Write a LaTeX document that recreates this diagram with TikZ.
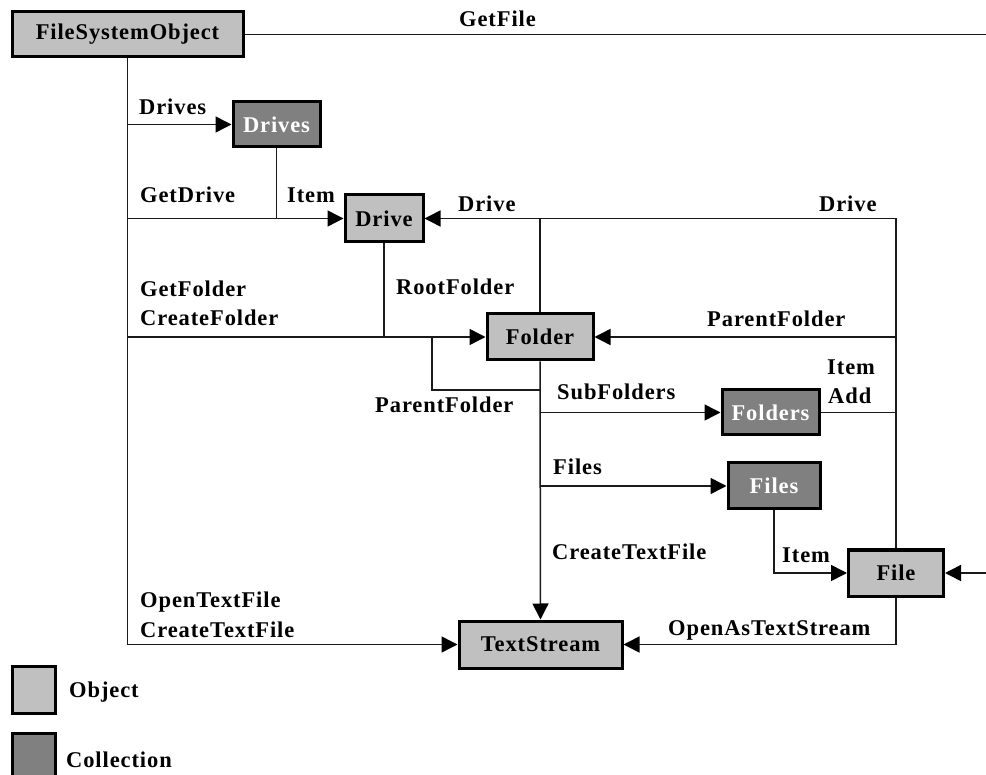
\documentclass[tikz,border=0pt]{standalone}
\usepackage{fontspec}
\setmainfont{Liberation Serif}[LetterSpace=4]
\usetikzlibrary{arrows.meta}
\definecolor{objfill}{HTML}{C0C0C0}
\definecolor{colfill}{HTML}{808080}
\definecolor{linec}{HTML}{1A1A1A}
\tikzset{
  base/.style={draw=black, line width=3pt, inner sep=0pt, font=\fontsize{22.5}{26}\selectfont\bfseries},
  objbox/.style={base, fill=objfill, text=black},
  colbox/.style={base, fill=colfill, text=white},
  conn/.style={draw=linec, line width=1.5pt},
  arr/.style={conn, -{Triangle[length=16pt,width=16pt,color=black]}},
  lbl/.style={anchor=base west, inner sep=0pt, font=\fontsize{22.5}{26}\selectfont\bfseries}
}
\begin{document}
\begin{tikzpicture}[x=1pt,y=-1pt]
\useasboundingbox[fill=white] (0,0) rectangle (986,775);
% boxes
\node[objbox, minimum width=231pt, minimum height=45pt] (fso) at (127.5,34.5) {FileSystemObject};
\node[colbox, minimum width=87pt, minimum height=45pt] (drives) at (276.5,124.5) {Drives};
\node[objbox, minimum width=78pt, minimum height=47pt] (drive) at (384,218.5) {Drive};
\node[objbox, minimum width=106pt, minimum height=46pt] (folder) at (540,337) {Folder};
\node[colbox, minimum width=97pt, minimum height=45pt] (folders) at (770.5,412.5) {Folders};
\node[colbox, minimum width=92pt, minimum height=46pt] (files) at (774,486) {Files};
\node[objbox, minimum width=95pt, minimum height=46pt] (file) at (896,573) {File};
\node[objbox, minimum width=163pt, minimum height=47pt] (ts) at (540.5,644.5) {TextStream};
% legend
\node[objbox, minimum width=43pt, minimum height=47pt] (legobj) at (33.5,689.5) {};
\node[colbox, minimum width=43pt, minimum height=47pt] (legcol) at (33.5,756.5) {};
\node[lbl] (legobjt) at (69,697) {Object};
\node[lbl] (legcolt) at (66,767) {Collection};
% free ends
\coordinate (getfileend) at (986,34.5);
\coordinate (fileright) at (986,573);
\coordinate (pf) at (432,390);
% connectors
\draw[conn] (fso.east) -- (getfileend);
\draw[arr] (fso.south) |- (ts.west);
\draw[arr] (fso.south |- drives.west) -- (drives.west);
\draw[arr] (fso.south |- drive.west) -- (drive.west);
\draw[conn] (drives.south) -- (drives.south |- drive.west);
\draw[arr] (file.north) |- (drive.east);
\draw[conn] (folder.north) -- (folder.north |- drive.east);
\draw[arr] (fso.south |- folder.west) -- (folder.west);
\draw[conn] (drive.south) -- (drive.south |- folder.west);
\draw[conn] (folder.south |- pf) -- (pf) -- (pf |- folder.west);
\draw[arr] (file.north |- folder.east) -- (folder.east);
\draw[arr] (folder.south |- folders.west) -- (folders.west);
\draw[conn] (folders.east) -- (file.north |- folders.east);
\draw[arr] (folder.south |- files.west) -- (files.west);
\draw[arr] (folder.south) -- (ts.north);
\draw[arr] (files.south) |- (file.west);
\draw[arr] (file.south) |- (ts.east);
\draw[arr] (fileright) -- (file.east);
% labels
\node[lbl] (l1) at (459,27) {GetFile};
\node[lbl] (l2) at (139,115) {Drives};
\node[lbl] (l3) at (140,203) {GetDrive};
\node[lbl] (l4) at (287,203) {Item};
\node[lbl] (l5) at (458,212) {Drive};
\node[lbl] (l6) at (819,212) {Drive};
\node[lbl] (l7) at (140,297) {GetFolder};
\node[lbl] (l8) at (140,326) {CreateFolder};
\node[lbl] (l9) at (396,295) {RootFolder};
\node[lbl] (l10) at (707,327) {ParentFolder};
\node[lbl] (l11) at (827,375) {Item};
\node[lbl] (l12) at (828,404) {Add};
\node[lbl] (l13) at (557,400) {SubFolders};
\node[lbl] (l14) at (375,413) {ParentFolder};
\node[lbl] (l15) at (553,475) {Files};
\node[lbl] (l16) at (552,559) {CreateTextFile};
\node[lbl] (l17) at (782,562) {Item};
\node[lbl] (l18) at (668,635) {OpenAsTextStream};
\node[lbl] (l19) at (140,607) {OpenTextFile};
\node[lbl] (l20) at (140,637) {CreateTextFile};
\end{tikzpicture}
\end{document}
